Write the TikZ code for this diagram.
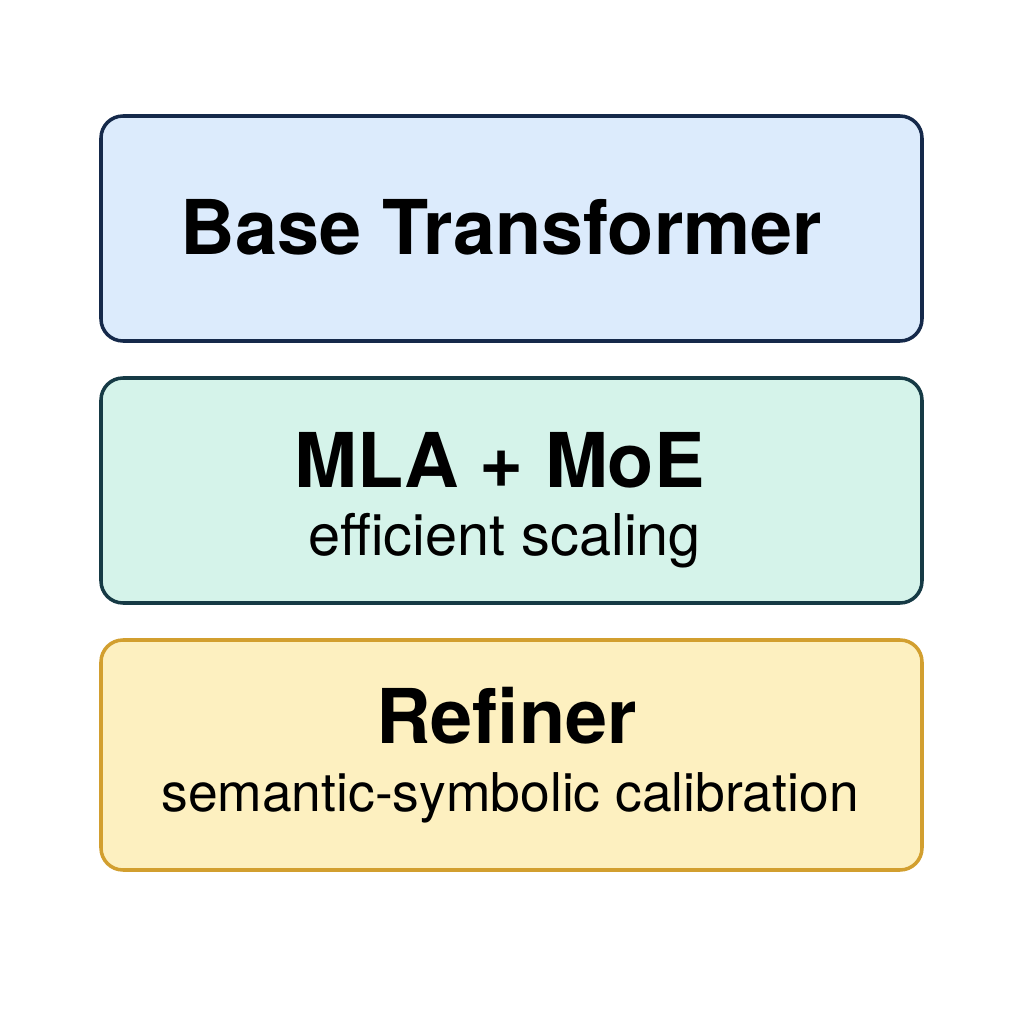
\documentclass[tikz,border=0pt]{standalone}
\usepackage{fontspec}
\setmainfont{TeX Gyre Heros}
\usepackage{tikz}
\usetikzlibrary{positioning}
\definecolor{BaseFill}{HTML}{DCEBFC}
\definecolor{BaseLine}{HTML}{15294A}
\definecolor{MoeFill}{HTML}{D5F3EA}
\definecolor{MoeLine}{HTML}{163A45}
\definecolor{RefFill}{HTML}{FDF0C0}
\definecolor{RefLine}{HTML}{D29F2F}

\begin{document}
\begin{tikzpicture}[
  layer/.style={draw,line width=1pt,rounded corners=0.22cm,
    minimum width=8.21cm,minimum height=2.25cm,outer sep=0pt},
  title/.style={anchor=base,inner sep=0pt,font=\fontsize{21.5pt}{24pt}\selectfont\bfseries},
  note/.style={anchor=base,inner sep=0pt,font=\fontsize{16.4pt}{19pt}\selectfont}]
\useasboundingbox[fill=white] (0,0) rectangle (10.24,10.24);
% the three stacked layers
\node[layer,fill=BaseFill,draw=BaseLine] (base) at (5.115,7.955) {};
\node[layer,fill=MoeFill,draw=MoeLine,below=0.37cm of base] (moe) {};
\node[layer,fill=RefFill,draw=RefLine,minimum height=2.3cm,below=0.37cm of moe] (refiner) {};
% labels
\node[title] (basetitle) at ([xshift=-0.1cm,yshift=-0.265cm]base.center) {Base Transformer};
\node[title] (moetitle) at ([xshift=-0.12cm,yshift=0.03cm]moe.center) {MLA + MoE};
\node[note] (moenote) at ([xshift=-0.07cm,yshift=-0.65cm]moe.center) {efficient scaling};
\node[title] (reftitle) at ([xshift=-0.05cm,yshift=0.115cm]refiner.center) {Refiner};
\node[note,font=\fontsize{15.2pt}{19pt}\selectfont] (refnote)
  at ([xshift=-0.015cm,yshift=-0.565cm]refiner.center) {semantic-symbolic calibration};
\end{tikzpicture}
\end{document}
